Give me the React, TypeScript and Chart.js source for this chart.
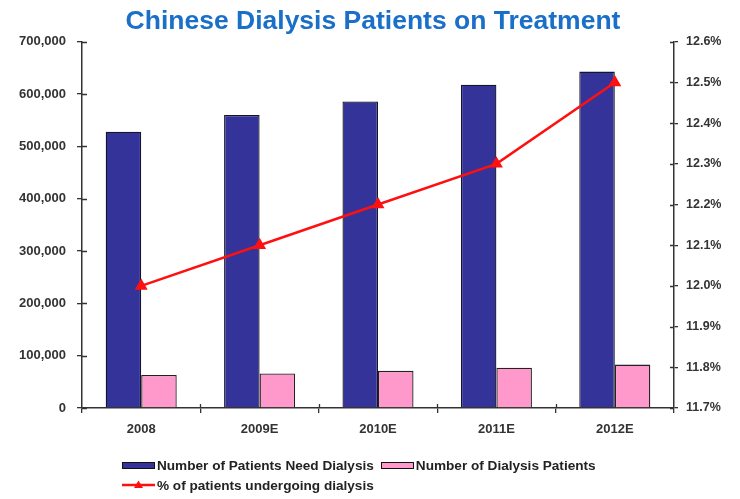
import React, { useEffect, useRef } from "react";
import { Chart, registerables } from "chart.js";

Chart.register(...registerables);

const categories = ["2008", "2009E", "2010E", "2011E", "2012E"];
const needDialysis = [528000, 560000, 586000, 618000, 643000];
const dialysisPatients = [63000, 66000, 71000, 77000, 83000];
const percentOnDialysis = [12.0, 12.1, 12.2, 12.3, 12.5];

const leftTicks = { min: 0, max: 700000, step: 100000 };
const rightTicks = { min: 11.7, max: 12.6, step: 0.1 };

const titleText = "Chinese Dialysis Patients on Treatment";
const legendLabels = [
  "Number of Patients Need Dialysis",
  "Number of Dialysis Patients",
  "% of patients undergoing dialysis",
];

const NAVY = "#333399";
const PINK = "#ff99cc";
const RED = "#ff1010";
const AXIS = "#333333";
const FONT = "'Liberation Sans', Arial, sans-serif";

const innerTicks = {
  id: "innerTicks",
  afterDraw(chart: any) {
    const ctx = chart.ctx;
    const { x, y, y1 } = chart.scales;
    ctx.save();
    ctx.strokeStyle = AXIS;
    ctx.lineWidth = 1.3;
    ctx.beginPath();
    y.ticks.forEach((_: any, i: number) => {
      const py = Math.round(y.getPixelForTick(i)) + 0.5;
      ctx.moveTo(y.right, py);
      ctx.lineTo(y.right + 5, py);
    });
    y1.ticks.forEach((_: any, i: number) => {
      const py = Math.round(y1.getPixelForTick(i)) + 0.5;
      ctx.moveTo(y1.left - 4, py);
      ctx.lineTo(y1.left, py);
    });
    for (let i = 1; i < categories.length; i++) {
      const px = Math.round((x.getPixelForValue(i - 1) + x.getPixelForValue(i)) / 2) + 0.5;
      ctx.moveTo(px, x.top - 4);
      ctx.lineTo(px, x.top);
    }
    ctx.stroke();
    ctx.restore();
  },
};

function LegendLine() {
  return (
    <svg width={33} height={12} style={{ display: "block", marginRight: 2 }}>
      <line x1={0} y1={6} x2={33} y2={6} stroke={RED} strokeWidth={2.5} />
      <polygon points="16.5,1.5 21,9 12,9" fill={RED} />
    </svg>
  );
}

function Box({ color }: { color: string }) {
  return (
    <div
      style={{
        width: 31,
        height: 5,
        background: color,
        border: "1px solid #111",
        marginRight: 2,
      }}
    />
  );
}

export default function App() {
  const ref = useRef<HTMLCanvasElement | null>(null);

  useEffect(() => {
    if (!ref.current) return;
    const chart = new Chart(ref.current, {
      type: "bar",
      data: {
        labels: categories,
        datasets: [
          {
            type: "line",
            label: legendLabels[2],
            data: percentOnDialysis,
            yAxisID: "y1",
            borderColor: RED,
            backgroundColor: RED,
            borderWidth: 2.5,
            pointStyle: "triangle",
            pointRadius: 5,
            pointBackgroundColor: RED,
            pointBorderColor: RED,
            tension: 0,
            order: 0,
          } as any,
          {
            type: "bar",
            label: legendLabels[0],
            data: needDialysis,
            yAxisID: "y",
            backgroundColor: NAVY,
            borderColor: "#15152a",
            borderWidth: 1.3,
            categoryPercentage: 0.6,
            barPercentage: 1.0,
            order: 1,
          },
          {
            type: "bar",
            label: legendLabels[1],
            data: dialysisPatients,
            yAxisID: "y",
            backgroundColor: PINK,
            borderColor: "#222222",
            borderWidth: 1.3,
            categoryPercentage: 0.6,
            barPercentage: 1.0,
            order: 1,
          },
        ],
      },
      options: {
        responsive: false,
        animation: false,
        devicePixelRatio: 1,
        layout: { padding: { left: 6, right: 0, top: 0, bottom: 56 } },
        plugins: {
          legend: { display: false },
          tooltip: { enabled: false },
          title: {
            display: true,
            text: titleText,
            color: "#1a6fc8",
            font: { family: FONT, size: 26.5, weight: "bold" },
            padding: { top: 6, bottom: 4 },
          },
        },
        scales: {
          x: {
            grid: {
              display: true,
              drawOnChartArea: false,
              drawTicks: true,
              tickLength: 5,
              offset: true,
              color: AXIS,
              lineWidth: 1.3,
            },
            border: { display: true, color: AXIS, width: 1.5 },
            ticks: {
              color: "#333",
              font: { family: FONT, size: 13, weight: "bold" },
              padding: 9,
            },
            afterFit(scale: any) {
              scale.height = 35;
            },
          },
          y: {
            position: "left",
            min: leftTicks.min,
            max: leftTicks.max,
            grid: {
              display: true,
              drawOnChartArea: false,
              tickLength: 5,
              color: AXIS,
              lineWidth: 1.3,
            },
            border: { display: true, color: AXIS, width: 1.5 },
            ticks: {
              stepSize: leftTicks.step,
              color: "#333",
              font: { family: FONT, size: 13, weight: "bold" },
              padding: 11,
              callback: (v: any) => Number(v).toLocaleString("en-US"),
            },
            afterFit(scale: any) {
              scale.width = 76;
            },
          },
          y1: {
            position: "right",
            min: rightTicks.min,
            max: rightTicks.max,
            grid: {
              display: true,
              drawOnChartArea: false,
              tickLength: 4,
              color: AXIS,
              lineWidth: 1.3,
            },
            border: { display: true, color: AXIS, width: 1.5 },
            ticks: {
              stepSize: rightTicks.step,
              color: "#333",
              font: { family: FONT, size: 12.5, weight: "bold" },
              padding: 8,
              callback: (v: any) => Number(v).toFixed(1) + "%",
            },
            afterFit(scale: any) {
              scale.width = 66;
            },
          },
        },
      },
      plugins: [innerTicks],
    });
    return () => chart.destroy();
  }, []);

  const textStyle: React.CSSProperties = {
    fontFamily: FONT,
    fontWeight: "bold",
    fontSize: 13.6,
    color: "#222",
    whiteSpace: "nowrap",
  };

  return (
    <div style={{ position: "absolute", left: 0, top: 0, width: 740, height: 499, background: "#fff" }}>
      <canvas ref={ref} width={740} height={499} style={{ display: "block", width: 740, height: 499 }} />
      <div style={{ position: "absolute", left: 122, top: 455 }}>
        <div style={{ display: "flex", alignItems: "center", height: 20 }}>
          <Box color={NAVY} />
          <span style={textStyle}>{legendLabels[0]}</span>
          <div style={{ width: 7 }} />
          <Box color={PINK} />
          <span style={textStyle}>{legendLabels[1]}</span>
        </div>
        <div style={{ display: "flex", alignItems: "center", height: 20 }}>
          <LegendLine />
          <span style={textStyle}>{legendLabels[2]}</span>
        </div>
      </div>
    </div>
  );
}
